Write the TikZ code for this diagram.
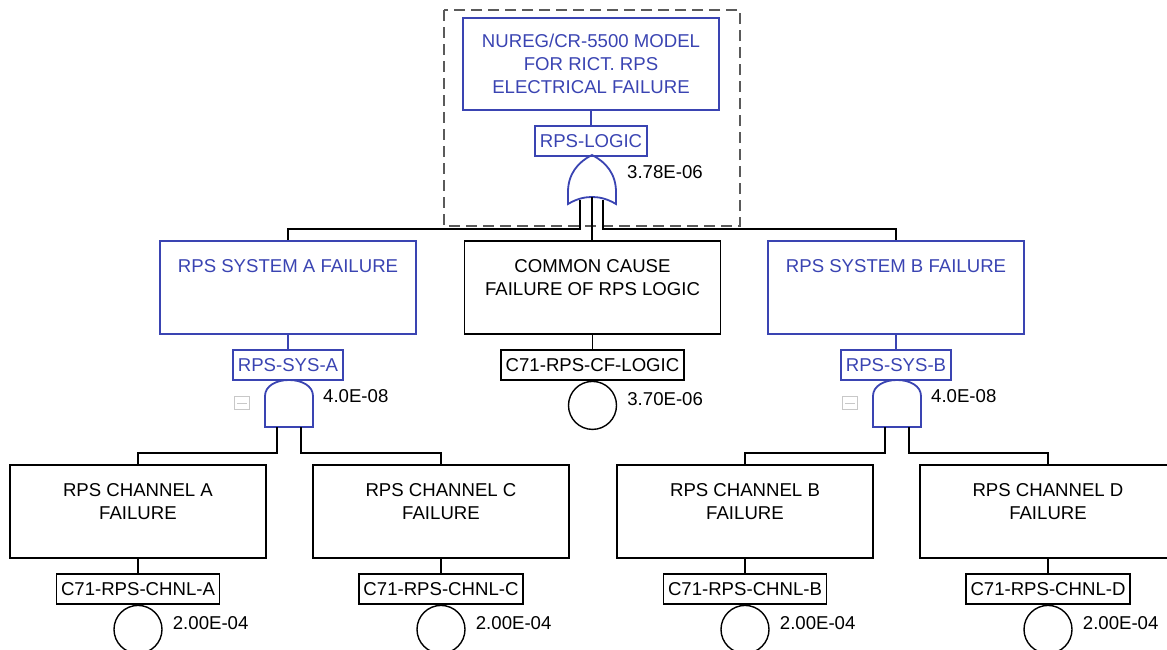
\documentclass[tikz,border=0pt]{standalone}
\usepackage{fontspec}
\setmainfont{Liberation Sans}
\usetikzlibrary{positioning}
\definecolor{ftblue}{RGB}{58,68,178}
\definecolor{icongray}{RGB}{200,200,200}
\definecolor{framegray}{RGB}{90,90,90}

\begin{document}
\begin{tikzpicture}[x=1pt, y=-1pt,
    font=\fontsize{18.6}{23}\selectfont,
    event/.style ={draw, line width=1.8pt, minimum width=256pt, minimum height=93pt, inner sep=0pt},
    blueevent/.style ={event, draw=ftblue, text=ftblue},
    evtext/.style ={label={[anchor=north, align=center, yshift=-16pt]north:#1}},
    blueevtext/.style ={label={[anchor=north, align=center, yshift=-16pt, text=ftblue]north:#1}},
    tag/.style ={draw, line width=1.8pt, inner xsep=4.5pt, inner ysep=0pt, minimum height=30pt},
    bluetag/.style ={tag, draw=ftblue, text=ftblue},
    basic/.style ={circle, draw, line width=1.4pt, inner sep=0pt, minimum size=48pt},
    prob/.style ={inner sep=0pt},
    wire/.style ={line width=1.8pt},
    bluewire/.style ={wire, draw=ftblue},
    collapse/.style ={draw=icongray, line width=1pt, inner sep=0pt, minimum width=15pt, minimum height=13pt},
    orgate/.pic ={
      \draw[line width=1.8pt, ftblue] (-24,24) -- (-24,12) .. controls (-24,-6) and (-14,-18) .. (0,-25)
        .. controls (14,-18) and (24,-6) .. (24,12) -- (24,24)
        .. controls (14,18) and (6,17) .. (0,17) .. controls (-6,17) and (-14,18) .. (-24,24) -- cycle;
      \coordinate (-a) at (-12,20);
      \coordinate (-b) at (0,17);
      \coordinate (-c) at (11,20);
      \coordinate (-e) at (24,0);},
    andgate/.pic ={
      \draw[line width=1.8pt, ftblue] (-24,23) -- (-24,-8) .. controls (-24,-18) and (-13,-24) .. (0,-24)
        .. controls (13,-24) and (24,-18) .. (24,-8) -- (24,23) -- cycle;
      \coordinate (-a) at (-12,23);
      \coordinate (-b) at (12,23);
      \coordinate (-e) at (24,0);}]
   \useasboundingbox (0,0) rectangle (1167,649);
   \clip (0,0) rectangle (1167,649);

   % top event
   \draw[framegray, line width=1.6pt, dash pattern=on 11pt off 6pt] (444,10) rectangle (740,226);
   \node[blueevent, minimum height=92pt, align=center] (top) at (591,64) {NUREG/CR-5500 MODEL\\FOR RICT. RPS\\ELECTRICAL FAILURE};
   \node[bluetag, below=14pt of top] (lLogic) {RPS-LOGIC};
   \pic (orL) at (592,180) {orgate};
   \node[prob, anchor=west, right=11pt of orL-e, yshift=8pt] (pLogic) {3.78E-06};

   % second level
   \node[blueevent, blueevtext={RPS SYSTEM A FAILURE}] (sysA) at (288,287.5) {};
   \node[event, evtext={COMMON CAUSE\\FAILURE OF RPS LOGIC}] (cc) at (592.5,287.5) {};
   \node[blueevent, blueevtext={RPS SYSTEM B FAILURE}] (sysB) at (896,287.5) {};
   \node[bluetag, below=14pt of sysA] (lSysA) {RPS-SYS-A};
   \node[tag, below=14pt of cc] (lCC) {C71-RPS-CF-LOGIC};
   \node[bluetag, below=14pt of sysB] (lSysB) {RPS-SYS-B};
   \pic (andA) at (289,404) {andgate};
   \pic (andB) at (897,404) {andgate};
   \node[prob, anchor=west, right=10pt of andA-e, yshift=8pt] (pSysA) {4.0E-08};
   \node[prob, anchor=west, right=10pt of andB-e, yshift=8pt] (pSysB) {4.0E-08};
   \node[basic, below=0pt of lCC] (eCC) {};
   \node[prob, right=10pt of eCC, yshift=6pt] (pCC) {3.70E-06};
   \node[collapse] (mA) at (242,403) {};
   \node[collapse] (mB) at (850,403) {};
   \draw[icongray, line width=1pt] ([xshift=3pt]mA.west) -- ([xshift=-3pt]mA.east);
   \draw[icongray, line width=1pt] ([xshift=3pt]mB.west) -- ([xshift=-3pt]mB.east);

   % channels
   \node[event, evtext={RPS CHANNEL A\\FAILURE}] (chA) at (138,511.5) {};
   \node[event, evtext={RPS CHANNEL C\\FAILURE}] (chC) at (441,511.5) {};
   \node[event, evtext={RPS CHANNEL B\\FAILURE}] (chB) at (745,511.5) {};
   \node[event, evtext={RPS CHANNEL D\\FAILURE}] (chD) at (1048,511.5) {};
   \node[tag, below=14pt of chA] (lA) {C71-RPS-CHNL-A};
   \node[tag, below=14pt of chC] (lC) {C71-RPS-CHNL-C};
   \node[tag, below=14pt of chB] (lB) {C71-RPS-CHNL-B};
   \node[tag, below=14pt of chD] (lD) {C71-RPS-CHNL-D};
   \node[basic, below=0pt of lA] (eA) {};
   \node[basic, below=0pt of lC] (eC) {};
   \node[basic, below=0pt of lB] (eB) {};
   \node[basic, below=0pt of lD] (eD) {};
   \node[prob, right=10pt of eA, yshift=6pt] (pA) {2.00E-04};
   \node[prob, right=10pt of eC, yshift=6pt] (pC) {2.00E-04};
   \node[prob, right=10pt of eB, yshift=6pt] (pB) {2.00E-04};
   \node[prob, right=10pt of eD, yshift=6pt] (pD) {2.00E-04};

   % connections
   \coordinate (busT) at (0,229);
   \coordinate (busL) at (0,453);
   \draw[bluewire] (top) -- (lLogic);
   \draw[wire] (orL-a) -- (orL-a |- busT) -| (sysA.north);
   \draw[wire] (orL-b) -- (orL-b |- cc.north);
   \draw[wire] (orL-c) -- (orL-c |- busT) -| (sysB.north);
   \draw[bluewire] (sysA) -- (lSysA);
   \draw[wire] (cc) -- (lCC);
   \draw[bluewire] (sysB) -- (lSysB);
   \draw[wire] (andA-a) -- (andA-a |- busL) -| (chA.north);
   \draw[wire] (andA-b) -- (andA-b |- busL) -| (chC.north);
   \draw[wire] (andB-a) -- (andB-a |- busL) -| (chB.north);
   \draw[wire] (andB-b) -- (andB-b |- busL) -| (chD.north);
   \draw[wire] (chA) -- (lA);
   \draw[wire] (chC) -- (lC);
   \draw[wire] (chB) -- (lB);
   \draw[wire] (chD) -- (lD);
\end{tikzpicture}
\end{document}
